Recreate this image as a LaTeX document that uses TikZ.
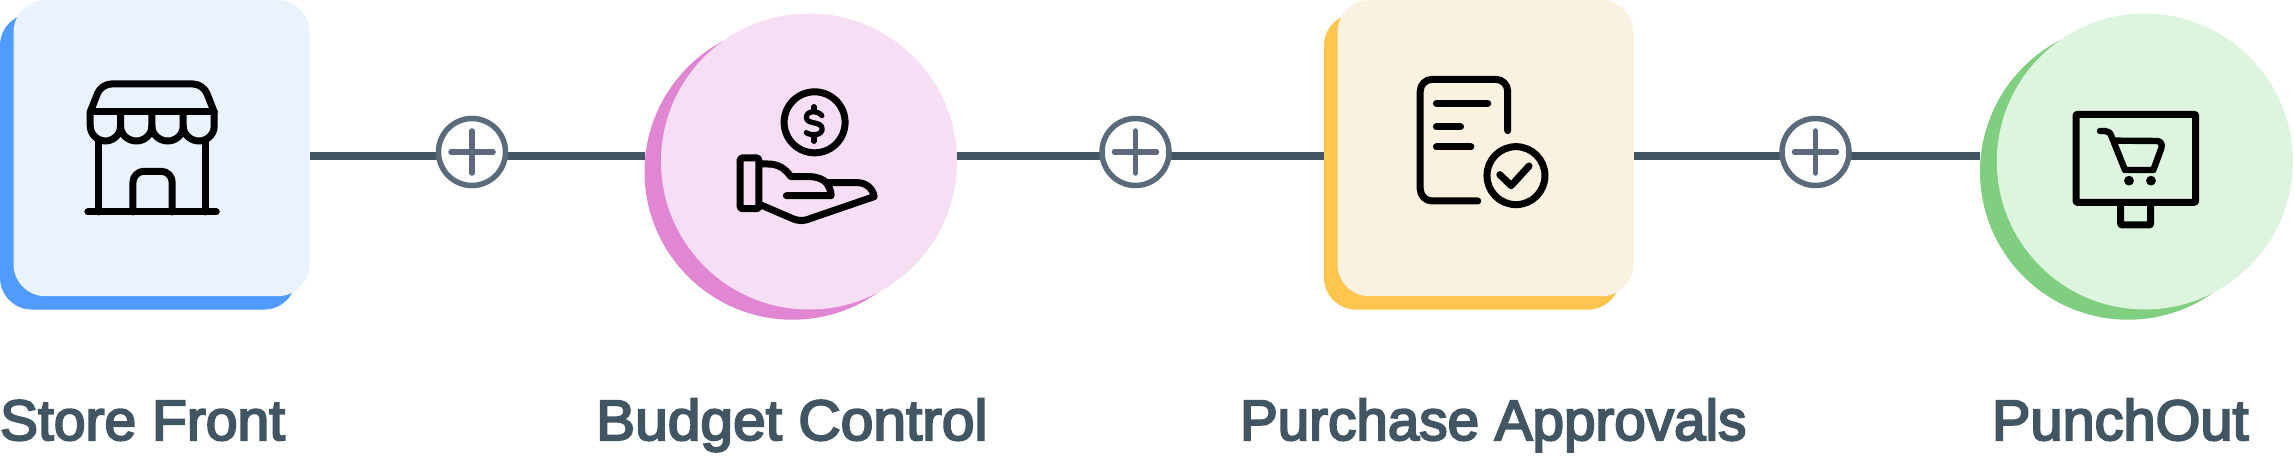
\documentclass[tikz,border=0pt]{standalone}
\usepackage{fontspec}
\newfontfamily\labfont[FakeBold=3.6]{Liberation Sans}
\usetikzlibrary{backgrounds}
\definecolor{slate}{HTML}{425563}
\definecolor{plusc}{HTML}{5B6B7B}
\tikzset{
  x=1pt,y=-1pt,
  card/.style={rectangle,rounded corners=32pt,minimum size=296pt,inner sep=0pt,outer sep=0pt},
  disc/.style={circle,minimum size=296pt,inner sep=0pt,outer sep=0pt},
  conn/.style={draw=slate,line width=8.4pt},
  plusnode/.style={circle,draw=plusc,fill=white,line width=5.5pt,minimum size=67pt,inner sep=0pt,outer sep=0pt},
  plusmark/.style={draw=plusc,line width=5.5pt,line cap=round},
  icon/.style={draw=black,line width=7pt,line cap=round,line join=round},
  thin icon/.style={draw=black,line width=6.4pt,line cap=round,line join=round},
  lab/.style={anchor=base west,inner sep=0pt,outer sep=0pt,text=slate,font=\labfont\fontsize{57}{60}\selectfont},
}
\begin{document}
\begin{tikzpicture}
\useasboundingbox (0,0) rectangle (2294,476);
% cards
\node[card,fill={rgb,255:red,79;green,155;blue,255}] (b1) at (148,161.6) {};
\node[card,fill={rgb,255:red,234;green,242;blue,254}] (c1) at (161.5,148.2) {};
\node[disc,fill={rgb,255:red,224;green,134;blue,211}] (b2) at (792.5,171.7) {};
\node[disc,fill={rgb,255:red,246;green,223;blue,245}] (c2) at (809,161.5) {};
\node[card,fill={rgb,255:red,255;green,198;blue,79}] (b3) at (1472,161.6) {};
\node[card,fill={rgb,255:red,250;green,241;blue,225}] (c3) at (1485.5,148.2) {};
\node[disc,fill={rgb,255:red,128;green,206;blue,127}] (b4) at (2128,171.7) {};
\node[disc,fill={rgb,255:red,221;green,245;blue,222}] (c4) at (2144.8,161.5) {};
% plus nodes
\node[plusnode] (p1) at (472,152) {};
\node[plusnode] (p2) at (1135.5,152) {};
\node[plusnode] (p3) at (1815.5,152) {};
\coordinate (l1) at (472,156);
\coordinate (l2) at (1135.5,156);
\coordinate (l3) at (1815.5,156);
\begin{pgfonlayer}{background}
\draw[conn] (c1.east |- l1) -- (l1) -- (b2.west |- l1);
\draw[conn] (c2.east |- l2) -- (l2) -- (b3.west |- l2);
\draw[conn] (c3.east |- l3) -- (l3) -- (b4.west |- l3);
\end{pgfonlayer}
\foreach \p in {p1,p2,p3}{
  \draw[plusmark] (\p.center) ++(-21,0) -- ++(42,0);
  \draw[plusmark] (\p.center) ++(0,-21) -- ++(0,42);
}
% store icon
\begin{scope}[x=0.3444pt,y=-0.3333pt]
\draw[icon,rounded corners=10pt] (262,336) -- (294,252) -- (590,252) -- (622,336);
\draw[icon] (262,336) -- (622,336);
\draw[icon] (262,336) -- (262,378) .. controls (262,405) and (285,423) .. (306,423) .. controls (328,423) and (350,405) .. (350,378) -- (350,336);
\draw[icon] (350,378) .. controls (350,405) and (373,423) .. (396,423) .. controls (419,423) and (441,405) .. (441,378) -- (441,336);
\draw[icon] (441,378) .. controls (441,405) and (464,423) .. (487,423) .. controls (510,423) and (532,405) .. (532,378) -- (532,336);
\draw[icon] (532,378) .. controls (532,405) and (555,423) .. (578,423) .. controls (600,423) and (622,405) .. (622,378) -- (622,336);
\draw[icon] (285,425) -- (285,636);
\draw[icon] (598,425) -- (598,636);
\draw[icon] (255,636) -- (628,636);
\draw[icon,rounded corners=11pt] (386,636) -- (386,514) -- (500,514) -- (500,636);
\end{scope}
% hand icon
\begin{scope}[shift={(630,0)},x=0.3444pt,y=-0.3333pt]
\draw[icon] (536,367) circle [radius=30.5pt];
\draw[icon,line width=5.2pt] (557,347) .. controls (545,330) and (512,332) .. (512,352) .. controls (512,375) and (558,362) .. (558,387) .. controls (558,407) and (525,408) .. (512,398);
\draw[icon,line width=5.2pt] (534,320) -- (534,332);
\draw[icon,line width=5.2pt] (534,410) -- (534,424);
\draw[icon,rounded corners=1.5pt] (320,474) rectangle (374,626);
\draw[icon] (376,492) -- (400,492) .. controls (430,492) and (450,505) .. (467,530) -- (520,530) .. controls (545,530) and (560,538) .. (570,548) -- (660,548) .. controls (685,548) and (705,565) .. (709,590) -- (525,655) .. controls (505,664) and (490,664) .. (470,655) -- (380,615);
\draw[icon] (570,548) .. controls (578,560) and (584,572) .. (584,587) -- (454,587);
\end{scope}
% document icon
\begin{scope}[shift={(1310,0)},x=0.3444pt,y=-0.3333pt]
\draw[icon,rounded corners=12pt] (574,392) -- (574,238) -- (320,238) -- (320,603) -- (487,603);
\draw[icon] (367,310) -- (516,310);
\draw[icon] (367,381) -- (437,381);
\draw[icon] (367,441) -- (467,441);
\draw[icon] (598,527) circle [radius=29pt];
\draw[icon] (551,524) -- (584,557) -- (636,498);
\end{scope}
% cart icon
\begin{scope}[shift={(1950,0)},x=0.3333pt,y=-0.3333pt]
\draw[icon,rounded corners=1pt] (378,343) rectangle (737,607);
\draw[icon,rounded corners=1pt] (512,607) -- (512,675) -- (602,675) -- (602,607);
\draw[thin icon] (450,393) -- (465,393) .. controls (475,393) and (480,398) .. (484,408) -- (525,510) -- (610,510) -- (634,445) .. controls (638,432) and (632,423) .. (620,423) -- (495,422);
\fill (537,542) circle [radius=4.9pt];
\fill (603,542) circle [radius=4.9pt];
\end{scope}
% labels
\node[lab] (t1) at (0,440) {Store Front};
\node[lab] (t2) at (596,440) {\scalebox{1.03}[1]{Budget Control}};
\node[lab] (t3) at (1240,440) {\scalebox{0.993}[1]{Purchase Approvals}};
\node[lab] (t4) at (1992,440) {\scalebox{1.012}[1]{PunchOut}};
\end{tikzpicture}
\end{document}
